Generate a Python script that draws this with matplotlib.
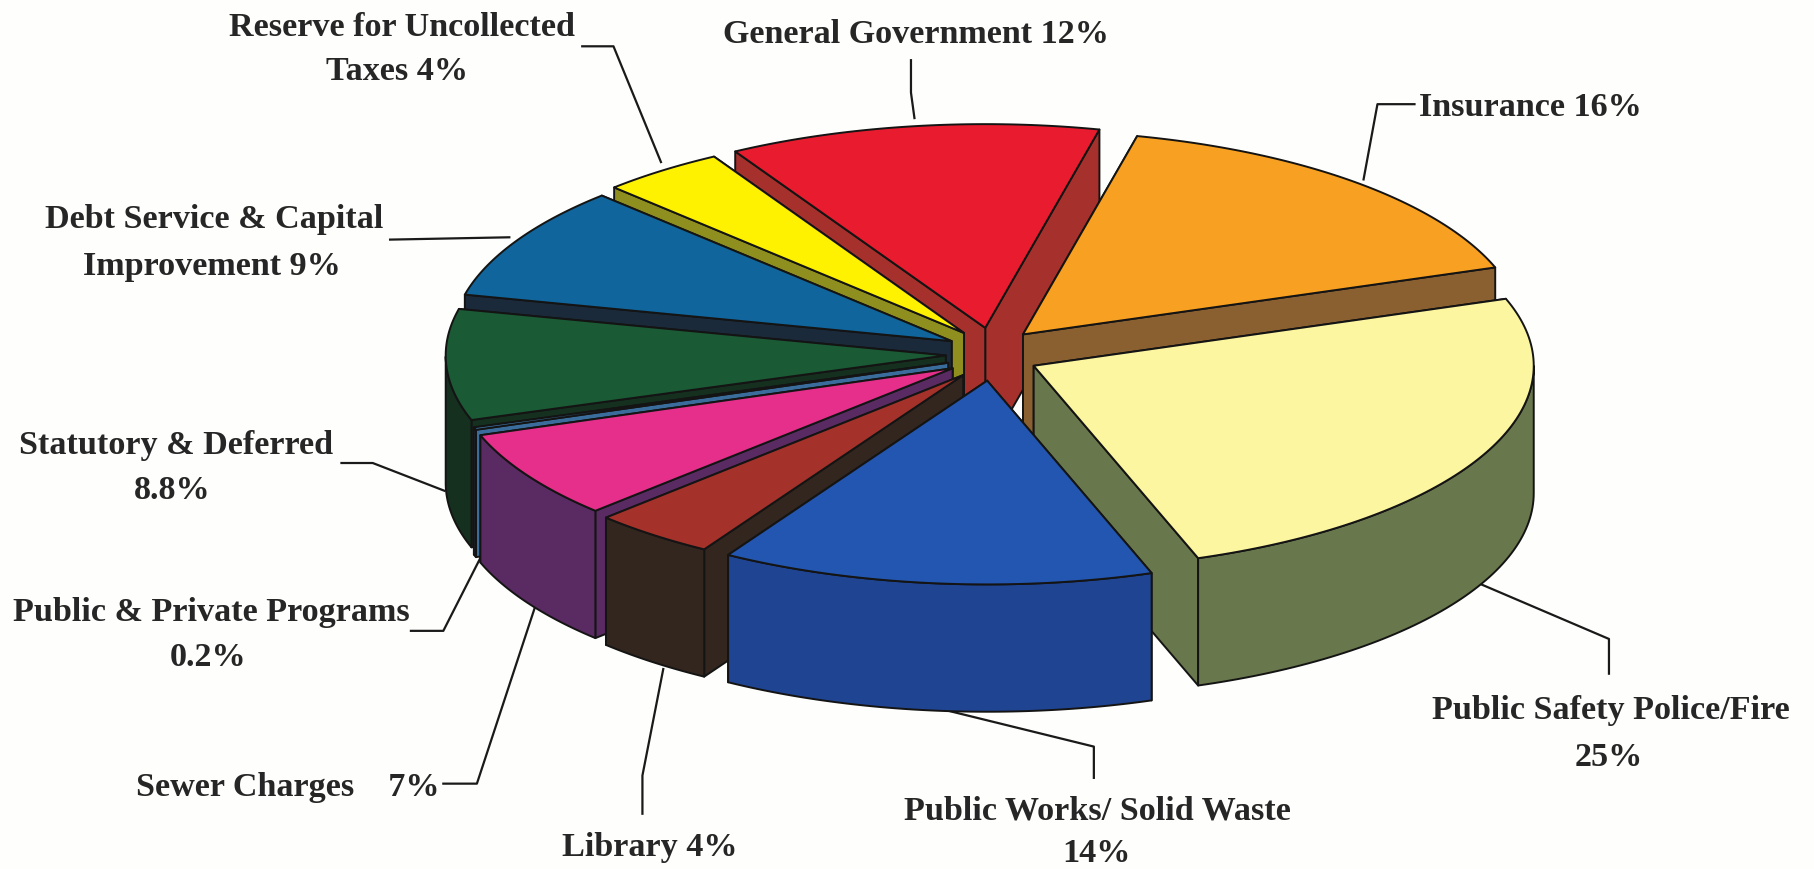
import numpy as np
import matplotlib
matplotlib.use("Agg")
import matplotlib.pyplot as plt
from matplotlib.patches import Polygon

categories = ["General Government", "Insurance", "Public Safety Police/Fire",
              "Public Works/ Solid Waste", "Library", "Sewer Charges",
              "Public & Private Programs", "Statutory & Deferred",
              "Debt Service & Capital Improvement", "Reserve for Uncollected Taxes"]
shares = [12, 16, 25, 14, 4, 7, 0.2, 8.8, 9, 4]
top_colors = ["#e81c2e", "#f8a021", "#fdf6a0", "#2356b0", "#a5322a",
              "#e52f8b", "#3f7db0", "#1a5a34", "#0f659c", "#fff200"]
wall_colors = ["#a5302c", "#8a6030", "#68774c", "#1f4492", "#33261e",
               "#5a2a62", "#3a6d9c", "#16301f", "#1b2a3a", "#8f8f20"]

S = 1815 / 1568
START = -30.0
CX, CY = 857 * S, 306 * S
RX, RY = 432 * S, 176 * S
DEPTH = 110 * S
EX, EY = 40 * S, 23 * S

fig = plt.figure(figsize=(18.15, 8.69), dpi=100, facecolor="#fefefc")
ax = fig.add_axes([0, 0, 1, 1])
ax.set_xlim(0, 1815)
ax.set_ylim(869, 0)
ax.axis("off")

edges = START + 3.6 * np.concatenate([[0], np.cumsum(shares)])


def rim(a, ox, oy, dz=0.0):
    t = np.radians(a)
    return np.column_stack([ox + RX * np.sin(t), oy - RY * np.cos(t) + dz])


def face(pts, color, z, lw=1.4):
    ax.add_patch(Polygon(pts, closed=True, facecolor=color, edgecolor="#141414",
                         linewidth=lw, joinstyle="round", zorder=z))


mids = (edges[:-1] + edges[1:]) / 2
order = np.argsort(-np.cos(np.radians(mids)))
for rank, i in enumerate(order):
    a0, a1, m = edges[i], edges[i + 1], mids[i]
    ox = CX + EX * np.sin(np.radians(m))
    oy = CY - EY * np.cos(np.radians(m))
    base = 10 + rank * 5
    apex = np.array([[ox, oy]])
    apex_low = np.array([[ox, oy + DEPTH]])
    # radial walls, the one further back first
    for j, a in enumerate(sorted([a0, a1], key=lambda v: -np.cos(np.radians(v)))):
        p = rim(np.array([a]), ox, oy)
        q = rim(np.array([a]), ox, oy, DEPTH)
        face(np.vstack([apex, p, q, apex_low]), wall_colors[i], base + j)
    # outer wall, only where it faces the viewer
    arc = np.linspace(a0, a1, 90)
    arc = arc[np.cos(np.radians(arc)) < 0]
    if arc.size > 1:
        face(np.vstack([rim(arc, ox, oy), rim(arc[::-1], ox, oy, DEPTH)]),
             wall_colors[i], base + 2)
    # top face
    face(np.vstack([apex, rim(np.linspace(a0, a1, 90), ox, oy)]), top_colors[i], base + 3)

labels = [
    ("Reserve for Uncollected", 347, 24), ("Taxes 4%", 343, 62),
    ("General Government 12%", 791, 30),
    ("Insurance 16%", 1322, 93),
    ("Debt Service & Capital", 185, 190), ("Improvement 9%", 183, 230),
    ("Statutory & Deferred", 152, 385), ("8.8%", 149, 424),
    ("Public & Private Programs", 183, 529), ("0.2%", 180, 568),
    ("Sewer Charges    7%", 249, 680),
    ("Library 4%", 561, 732),
    ("Public Works/ Solid Waste", 948, 701), ("14%", 947, 737),
    ("Public Safety Police/Fire", 1392, 614), ("25%", 1390, 654),
]
for s, x, y in labels:
    ax.text(x * S, y * S, s, ha="center", va="center", fontsize=24.6, fontweight="bold",
            family="Liberation Serif", color="#262626", zorder=100)

leaders = [
    [(503, 40), (530, 40), (571, 140)],
    [(787, 52), (787, 80), (790, 102)],
    [(1222, 90), (1190, 90), (1178, 155)],
    [(337, 207), (440, 205)],
    [(295, 400), (322, 400), (384, 424)],
    [(355, 545), (383, 545), (415, 482)],
    [(383, 677), (412, 677), (462, 525)],
    [(555, 703), (555, 670), (573, 578)],
    [(945, 672), (945, 645), (815, 613)],
    [(1390, 582), (1390, 552), (1280, 505)],
]
for pts in leaders:
    xs, ys = zip(*pts)
    ax.plot(np.array(xs) * S, np.array(ys) * S, color="#1a1a1a", lw=1.6, zorder=5)

fig.savefig("out.png", dpi=100, facecolor=fig.get_facecolor())
